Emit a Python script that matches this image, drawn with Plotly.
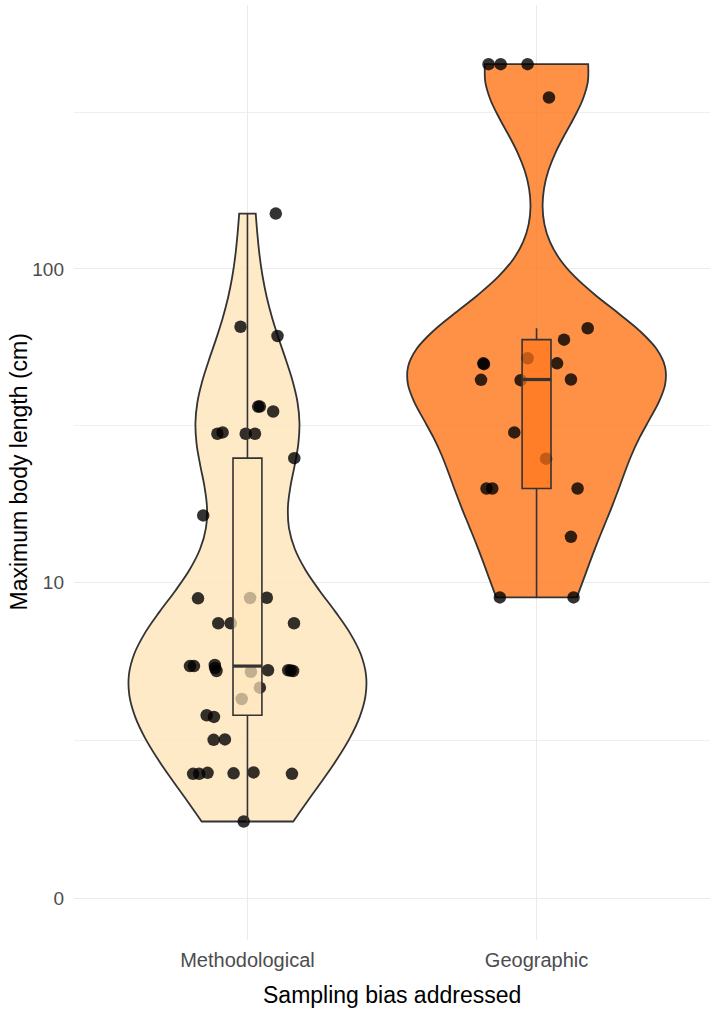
import numpy as np
import plotly.graph_objects as go

# ---------------- data ----------------
categories = ["Methodological", "Geographic"]

# Maximum body length (cm) of each study, and horizontal jitter (category units)
meth_length_cm = [150, 65.5, 61.2, 36.5, 36.5, 35.2, 29.9, 30.2, 29.9, 29.9, 25.0, 16.4,
                  8.86, 8.88, 8.9, 7.34, 7.34, 7.34, 5.28, 5.28, 5.33, 5.08, 5.05, 5.11,
                  5.11, 5.08, 4.45, 4.06, 3.55, 3.50, 2.87, 2.88, 2.08, 2.08, 2.10, 2.09,
                  2.11, 2.08, 1.18, 5.2, 5.1]
meth_jitter = [0.098, -0.024, 0.104, 0.037, 0.043, 0.089, -0.104, -0.086, -0.006, 0.026,
               0.162, -0.153, -0.171, 0.009, 0.067, -0.101, -0.058, 0.161, -0.199, -0.185,
               -0.113, -0.107, 0.012, 0.071, 0.141, 0.158, 0.043, -0.020, -0.141, -0.116,
               -0.117, -0.078, -0.188, -0.167, -0.138, -0.048, 0.021, 0.154, -0.013,
               -0.112, 0.150]

geo_length_cm = [448, 448, 448, 351, 64.8, 59.6, 52.0, 50.1, 49.8, 50.1, 44.4, 44.3, 44.5,
                 30.2, 24.9, 20.0, 20.0, 20.0, 14.0, 8.92, 8.92]
geo_jitter = [-0.166, -0.124, -0.031, 0.043, 0.177, 0.095, -0.031, -0.184, -0.182, 0.071,
              -0.192, -0.055, 0.119, -0.077, 0.033, -0.173, -0.153, 0.142, 0.119, -0.127,
              0.128]

y_breaks = [0, 10, 100]
y_break_labels = ["0", "10", "100"]

violin_fill = ["rgba(255,229,186,0.8)", "rgba(255,118,25,0.8)"]
box_fill = ["rgba(255,229,186,0.7)", "rgba(255,118,25,0.7)"]
violin_width = [0.82, 0.89]

# ---------------- helpers ----------------
def pseudo_log10(v):
    # ggplot2 pseudo_log transform (sigma = 1, base = 10)
    return np.arcsinh(np.asarray(v, dtype=float) / 2.0) / np.log(10)


def bw_nrd0(x):
    x = np.asarray(x)
    hi = np.std(x, ddof=1)
    q75, q25 = np.percentile(x, [75, 25])
    lo = min(hi, (q75 - q25) / 1.34)
    return 0.9 * lo * len(x) ** (-0.2)


def box_stats(x):
    x = np.sort(np.asarray(x))
    q1, med, q3 = np.percentile(x, [25, 50, 75])
    iqr = q3 - q1
    lo = x[x >= q1 - 1.5 * iqr].min()
    hi = x[x <= q3 + 1.5 * iqr].max()
    return q1, med, q3, lo, hi


groups = [
    (meth_length_cm, meth_jitter),
    (geo_length_cm, geo_jitter),
]

Y_RANGE = [-0.1335, 2.8394]
X_RANGE = [-0.6, 1.6]
LINE = "#333333"
BOX_W = 0.1

fig = go.Figure()

# violins (bottom layer)
for i, (vals, jit) in enumerate(groups):
    t = pseudo_log10(vals)
    fig.add_trace(go.Violin(
        y=t, x0=i, name=categories[i], width=violin_width[i],
        bandwidth=bw_nrd0(t), spanmode="hard", scalemode="width",
        points=False, box_visible=False, meanline_visible=False,
        fillcolor=violin_fill[i], line=dict(color=LINE, width=1.8),
        hoverinfo="skip", showlegend=False,
    ))

# jittered points
for i, (vals, jit) in enumerate(groups):
    t = pseudo_log10(vals)
    fig.add_trace(go.Scatter(
        x=i + np.asarray(jit), y=t, mode="markers",
        marker=dict(size=12.5, color="rgba(0,0,0,0.8)", line=dict(width=0)),
        hoverinfo="skip", showlegend=False,
    ))

# boxplots on an overlaid subplot so they sit above the points
for i, (vals, jit) in enumerate(groups):
    t = pseudo_log10(vals)
    q1, med, q3, lo, hi = box_stats(t)
    fig.add_trace(go.Box(
        x=[i], q1=[q1], median=[med], q3=[q3], lowerfence=[lo], upperfence=[hi],
        width=BOX_W, boxpoints=False, fillcolor=box_fill[i],
        line=dict(color=LINE, width=1.6), whiskerwidth=0,
        xaxis="x2", yaxis="y2", hoverinfo="skip", showlegend=False,
    ))
    fig.add_trace(go.Scatter(
        x=[i - BOX_W / 2, i + BOX_W / 2], y=[med, med], mode="lines",
        line=dict(color=LINE, width=3.2), xaxis="x2", yaxis="y2",
        hoverinfo="skip", showlegend=False,
    ))

major_t = pseudo_log10(y_breaks)
minor_t = list((major_t[:-1] + major_t[1:]) / 2) + [major_t[-1] + (major_t[-1] - major_t[-2]) / 2]

FONT = "Liberation Sans, Arial, sans-serif"

fig.update_layout(
    width=714, height=1011,
    margin=dict(l=74, r=4, t=5, b=71),
    paper_bgcolor="white", plot_bgcolor="white",
    violinmode="overlay", boxmode="overlay",
    font=dict(family=FONT),
    xaxis=dict(
        range=X_RANGE, tickmode="array", tickvals=[0, 1], ticktext=categories,
        showgrid=True, gridcolor="#EBEBEB", gridwidth=1.4, zeroline=False,
        showline=False, ticks="", ticklabelstandoff=6,
        tickfont=dict(size=20, color="#4D4D4D", family=FONT), fixedrange=True,
    ),
    yaxis=dict(
        range=Y_RANGE, tickmode="array", tickvals=list(major_t), ticktext=y_break_labels,
        showgrid=True, gridcolor="#EBEBEB", gridwidth=1.4, zeroline=False,
        showline=False, ticks="", ticklabelstandoff=9,
        tickfont=dict(size=19, color="#4D4D4D", family=FONT),
        minor=dict(tickvals=minor_t, showgrid=True, gridcolor="#EFEFEF", gridwidth=0.9),
        fixedrange=True,
    ),
    xaxis2=dict(overlaying="x", anchor="y2", range=X_RANGE, visible=False, fixedrange=True),
    yaxis2=dict(overlaying="y", anchor="x2", range=Y_RANGE, visible=False, fixedrange=True),
    annotations=[
        dict(text="Sampling bias addressed", xref="paper", yref="paper",
             x=0.5, y=-(995 - 940) / 935, xanchor="center", yanchor="middle",
             showarrow=False, font=dict(size=23, color="black", family=FONT)),
        dict(text="Maximum body length (cm)", xref="paper", yref="paper",
             x=-(74 - 18) / 636, y=0.5, xanchor="center", yanchor="middle",
             textangle=-90, showarrow=False, font=dict(size=23, color="black", family=FONT)),
    ],
)

fig.write_html("out.html")
